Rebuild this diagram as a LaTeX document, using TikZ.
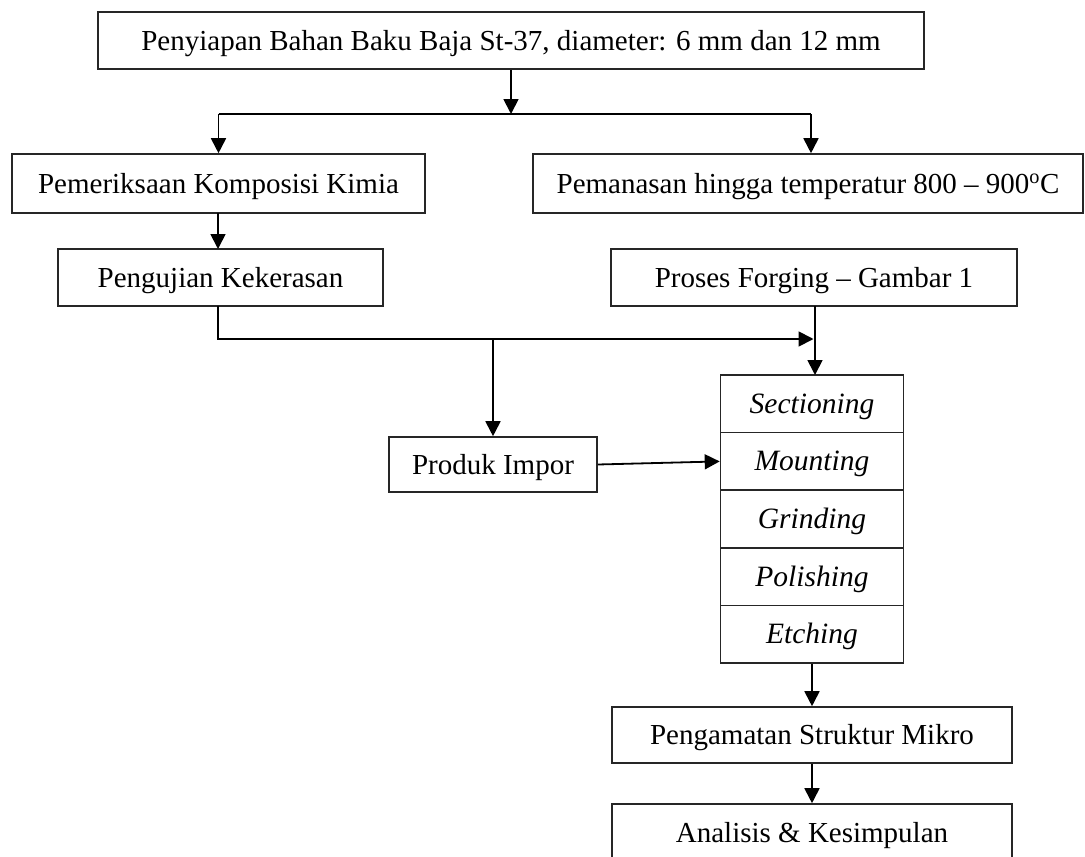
\documentclass[tikz,border=0pt]{standalone}
\usepackage{fontspec}
\setmainfont{Liberation Serif}
\usetikzlibrary{arrows.meta}
\begin{document}
\begin{tikzpicture}[x=1pt,y=-1pt,
  box/.style={draw=black!85,line width=1.6pt,inner sep=0pt,anchor=center,text height=19pt,text depth=0pt,font=\fontsize{29}{33}\selectfont},
  stk/.style={box,minimum width=183pt,minimum height=57.6pt,font=\fontsize{29.5}{33}\selectfont\itshape},
  arr/.style={line width=1.8pt,-{Triangle[length=15pt,width=15pt]}},
  ln/.style={line width=1.8pt}]
\clip (0,0) rectangle (1085,857);
\fill[white] (0,0) rectangle (1085,857);
\node[box,minimum width=826pt,minimum height=57pt] (top) at (511,40.5) {Penyiapan Bahan Baku Baja St-37, diameter: 6 mm dan 12 mm};
\node[box,minimum width=413pt,minimum height=59pt] (kimia) at (218.5,183.5) {Pemeriksaan Komposisi Kimia};
\node[box,minimum width=550pt,minimum height=59pt] (panas) at (808,183.5) {Pemanasan hingga temperatur 800 – 900\textsuperscript{o}C};
\node[box,minimum width=325pt,minimum height=57pt] (keras) at (220.5,277.5) {Pengujian Kekerasan};
\node[box,minimum width=406pt,minimum height=57pt] (forging) at (814,277.5) {Proses Forging – Gambar 1};
\node[box,minimum width=208pt,minimum height=55pt] (produk) at (493,464.5) {Produk Impor};
\node[stk] (s1) at (812,403.8) {Sectioning};
\node[stk] (s2) at (812,461.4) {Mounting};
\node[stk] (s3) at (812,519.0) {Grinding};
\node[stk] (s4) at (812,576.6) {Polishing};
\node[stk] (s5) at (812,634.2) {Etching};
\node[box,minimum width=400pt,minimum height=56pt] (mikro) at (812,735) {Pengamatan Struktur Mikro};
\node[box,minimum width=400pt,minimum height=58pt] (analisis) at (812,833) {Analisis \& Kesimpulan};
% connectors
\coordinate (jT) at (511,114);
\coordinate (jL) at (218.5,114);
\coordinate (jR) at (811,114);
\draw[arr] (top.south) -- (jT);
\draw[ln] (jL) -- (jR);
\draw[arr] (jL) -- (kimia.north);
\draw[arr] (jR) -- (jR |- panas.north);
\draw[arr] (218,213) -- (218,249);
\coordinate (jM) at (813.5,339);
\coordinate (jP) at (493,339);
\draw[arr] (218,306) |- (jM);
\draw[arr] (jP) -- (produk.north);
\draw[arr] (815,306) -- (815,375);
\draw[arr] (produk.east) -- (s2.west);
\draw[arr] (s5.south) -- (mikro.north);
\draw[arr] (mikro.south) -- (analisis.north);
\end{tikzpicture}
\end{document}
